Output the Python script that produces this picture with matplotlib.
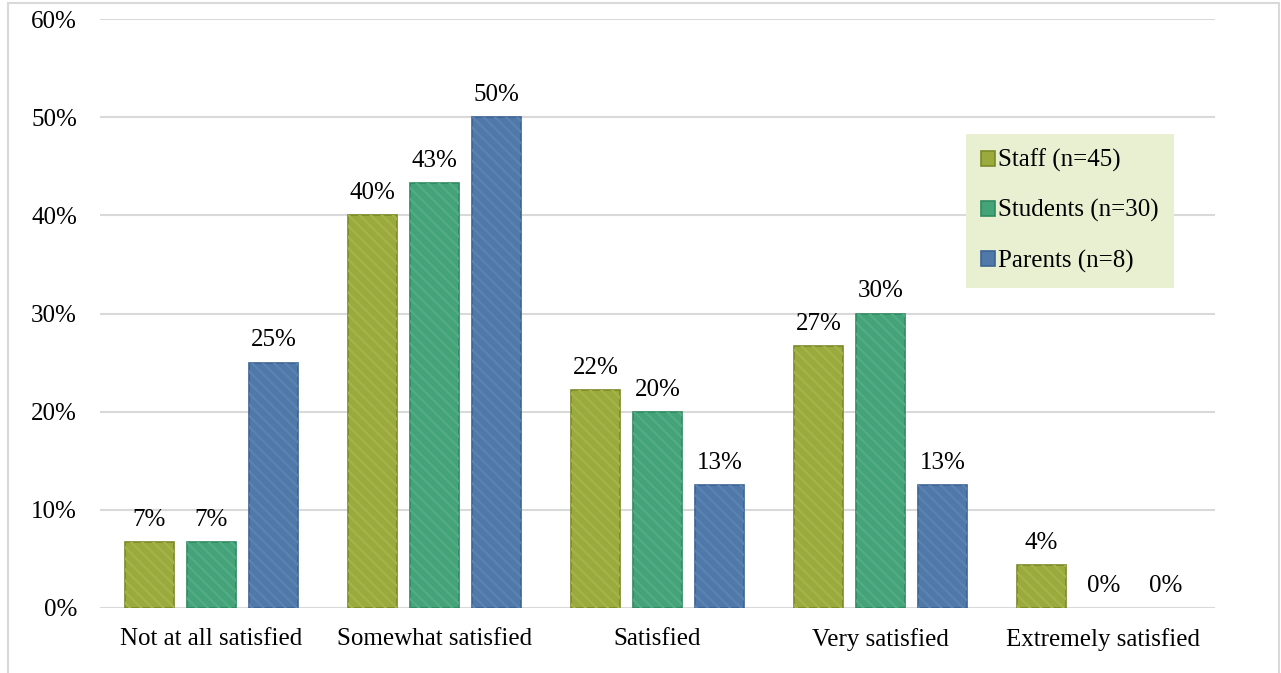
import numpy as np
import matplotlib

matplotlib.use("Agg")
import matplotlib.pyplot as plt
from matplotlib.patches import Rectangle

plt.rcParams["font.family"] = ["Liberation Serif", "DejaVu Serif"]
plt.rcParams["hatch.linewidth"] = 1.6

# data (percent)
categories = [
    "Not at all satisfied",
    "Somewhat satisfied",
    "Satisfied",
    "Very satisfied",
    "Extremely satisfied",
]
groups = ["Staff (n=45)", "Students (n=30)", "Parents (n=8)"]
staff = [6.7, 40.0, 22.2, 26.7, 4.4]
students = [6.7, 43.3, 20.0, 30.0, 0.0]
parents = [25.0, 50.0, 12.5, 12.5, 0.0]

face = ["#9aaa3c", "#45a379", "#5079aa"]
edge = ["#7b8a26", "#2f8a60", "#3c6394"]
stripe = ["#a5b44a", "#52ac85", "#5b83b2"]

fig = plt.figure(figsize=(12.81, 6.73), dpi=100)
ax = fig.add_axes([100 / 1281, 1 - 608 / 673, 1115 / 1281, 589 / 673])

x = np.arange(len(categories))
width = 0.224
step = 0.278
for i, vals in enumerate([staff, students, parents]):
    pos = x + (i - 1) * step
    lw = [1.2 if v > 0 else 0 for v in vals]
    ax.bar(pos, vals, width, color=face[i], edgecolor=edge[i], linewidth=lw,
           label=groups[i], zorder=2)
    ax.bar(pos, vals, width, color="none", edgecolor=stripe[i], hatch="\\\\\\",
           linewidth=0, zorder=3)
    for p, v in zip(pos, vals):
        ax.annotate(f"{int(v + 0.5)}%", (p, v), xytext=(0, 8), textcoords="offset points",
                    ha="center", va="bottom", fontsize=18)

ax.set_xlim(-0.5, len(categories) - 0.5)
ax.set_ylim(0, 60)
ax.set_yticks(range(0, 61, 10))
ax.set_yticklabels([f"{t}%" for t in range(0, 61, 10)])
ax.set_xticks(x)
ax.set_xticklabels(categories)
ax.tick_params(axis="both", length=0, labelsize=18)
ax.tick_params(axis="y", pad=16.5)
ax.tick_params(axis="x", pad=14.5)
ax.yaxis.grid(True, color="#d9d9d9", linewidth=1.5, zorder=0)
ax.set_axisbelow(True)
for s in ax.spines.values():
    s.set_visible(False)

leg = ax.legend(loc="upper left", bbox_to_anchor=(866 / 1115, 1 - 115 / 589),
                frameon=True, fontsize=18, handlelength=0.55, handleheight=0.55,
                handletextpad=0.15, labelspacing=1.08, borderpad=0.6,
                borderaxespad=0, fancybox=False)
leg.get_frame().set_facecolor("#e9f0d1")
leg.get_frame().set_edgecolor("none")
leg.get_frame().set_alpha(1)

# outer chart border
fig.patches.append(Rectangle((8 / 1281, -0.01), 1271 / 1281, 1 - 3 / 673 + 0.01,
                             transform=fig.transFigure, fill=False,
                             edgecolor="#d9d9d9", linewidth=1.5))

fig.savefig("out.png", dpi=100)
